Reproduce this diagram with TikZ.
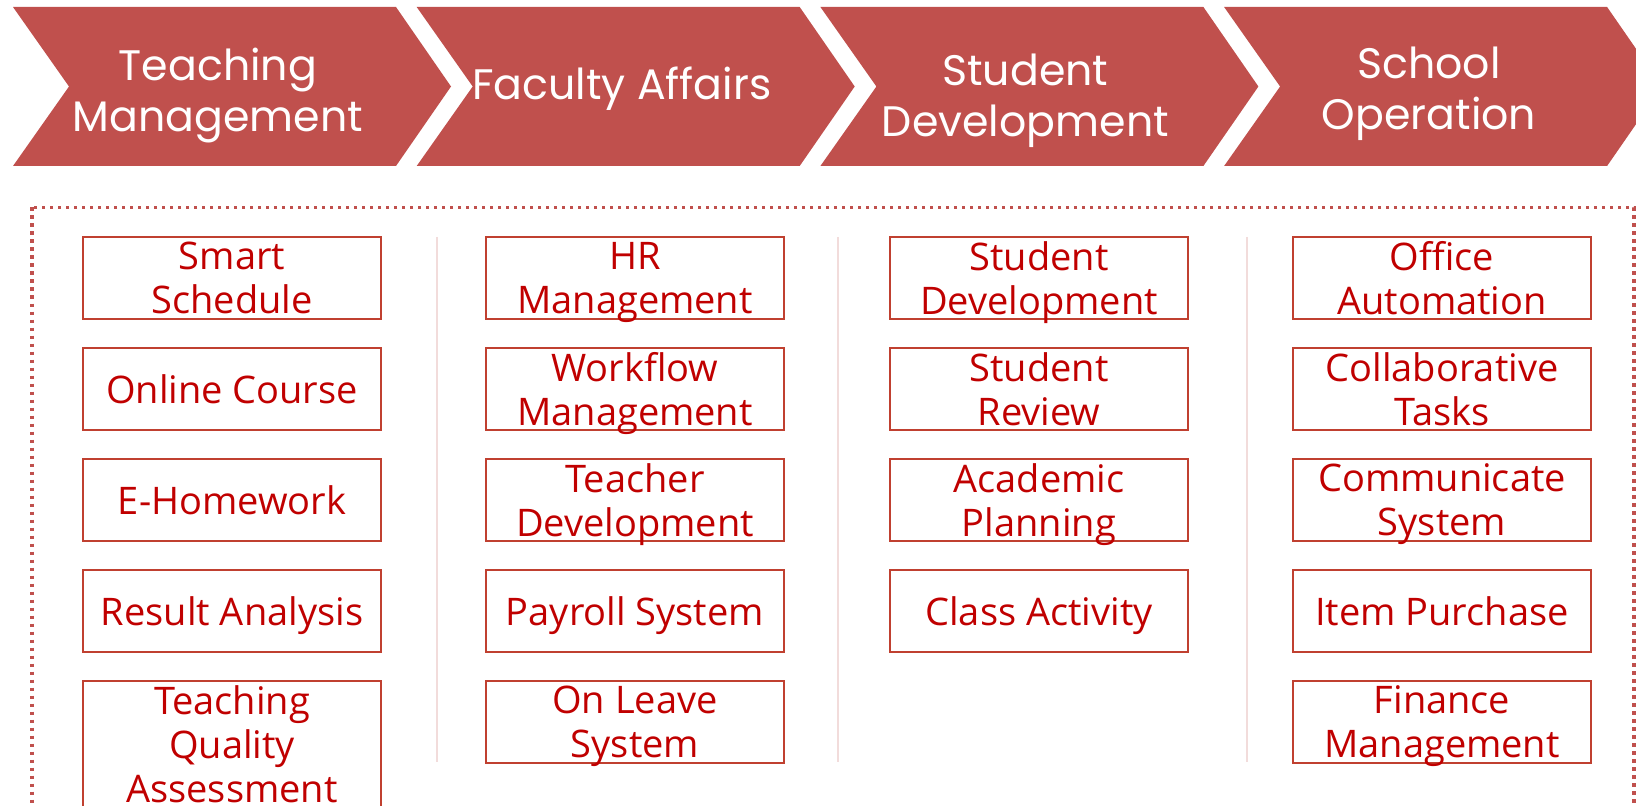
\documentclass[tikz,border=0pt]{standalone}
\usepackage{fontspec}
\setmainfont{Open Sans}
\newfontfamily\headfont{Poppins}
\definecolor{chevred}{RGB}{192,80,77}
\definecolor{itemred}{RGB}{192,0,0}
\definecolor{edgered}{RGB}{192,64,48}
\definecolor{seppink}{RGB}{242,220,219}
\tikzset{%
  chevron/.style={
    fill=chevred
  },
  head/.style={
    text=white,
    align=center,
    inner sep=0pt,
    text depth=0pt,
    font=\headfont\fontsize{32}{38}\selectfont
  },
  item/.style={
    draw=edgered,
    line width=1.5pt,
    text=itemred,
    align=center,
    inner sep=0pt,
    minimum width=223.5pt,
    minimum height=61.5pt,
    text depth=0pt,
    font=\fontsize{28.5}{33}\selectfont
  },
}

\begin{document}
\begin{tikzpicture}[x=0.75pt, y=-0.75pt]
            \useasboundingbox (0,0) rectangle (1636,806);
            \clip (0,0) rectangle (1636,806);

            % chevrons
            \foreach \l/\h [count=\i from 0] in {{Teaching\\Management}/90,{Faculty Affairs}/83,{Student\\Development}/95,{School\\Operation}/88}
            {
                \pgfmathsetmacro\xa{13+403.7*\i}
                \fill [chevron] (\xa,7) -- ++(383,0) -- ++(55,79.5) -- ++(-55,79.5) -- ++(-383,0) -- ++(56,-79.5) -- cycle;
                \node [head] (head-\i) at (\xa+205,\h) {\l};
            }

            \draw [chevred, line width=2.3pt, dash pattern=on 2.3pt off 3.7pt] (32,207.5) rectangle (1634,840);

            \foreach \x in {437,838,1247}
              \draw [seppink, line width=1.5pt] (\x,237) -- (\x,762);

            % boxes
            \foreach \l [count=\y] in {{Smart\\Schedule},Online Course,E-Homework,Result Analysis}
              \node [item] (teach-\y) at (232,167+111*\y) {\l};
            \node [item, minimum height=94.5pt] (teach-5) at (232,744) {Teaching\\Quality\\Assessment};
            \foreach \l [count=\y] in {{HR\\Management},{Workflow\\Management},{Teacher\\Development},Payroll System,{On Leave\\System}}
              \node [item] (faculty-\y) at (635,167+111*\y) {\l};
            \foreach \l [count=\y] in {{Student\\Development},{Student\\Review},{Academic\\Planning},Class Activity}
              \node [item] (student-\y) at (1039,167+111*\y) {\l};
            \foreach \l [count=\y] in {{Office\\Automation},{Collaborative\\Tasks},{Communicate\\System},Item Purchase,{Finance\\Management}}
              \node [item] (school-\y) at (1442,167+111*\y) {\l};
\end{tikzpicture}
\end{document}
